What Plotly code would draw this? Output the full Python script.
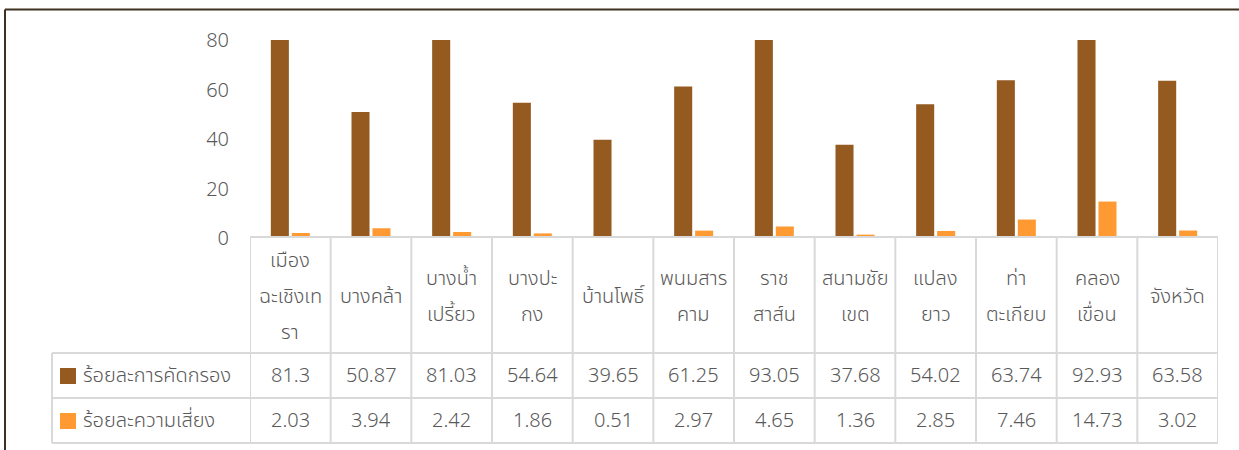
import plotly.graph_objects as go

categories = ["เมือง\nฉะเชิงเท\nรา", "บางคล้า", "บางน้ำ\nเปรี้ยว", "บางปะ\nกง", "บ้านโพธิ์",
              "พนมสาร\nคาม", "ราช\nสาส์น", "สนามชัย\nเขต", "แปลง\nยาว", "ท่า\nตะเกียบ",
              "คลอง\nเขื่อน", "จังหวัด"]
series_names = ["ร้อยละการคัดกรอง", "ร้อยละความเสี่ยง"]
screening = [81.3, 50.87, 81.03, 54.64, 39.65, 61.25, 93.05, 37.68, 54.02, 63.74, 92.93, 63.58]
risk = [2.03, 3.94, 2.42, 1.86, 0.51, 2.97, 4.65, 1.36, 2.85, 7.46, 14.73, 3.02]
series_values = [screening, risk]
y_ticks = [0, 20, 40, 60, 80]

colors = ["#955A20", "#FF9A33"]
FONT = "Noto Sans Thai, Noto Sans, Tahoma, sans-serif"
TXT = "#595959"
GRID = "#D9D9D9"
WEIGHT = 300

W, H = 1239, 450
L, R, T, B = 250, 21, 40, 212
plot_h = H - T - B


def py(pix):
    # pixel row -> paper y
    return (H - B - pix) / plot_h


def px(pix):
    return (pix - L) / (W - L - R)


def f(size=20):
    return dict(family=FONT, size=size, color=TXT, weight=WEIGHT)


n = len(categories)
xs = list(range(n))
fig = go.Figure()
for name, vals, c in zip(series_names, series_values, colors):
    fig.add_trace(go.Bar(x=xs, y=vals, name=name, marker=dict(color=c, line=dict(width=0)),
                         showlegend=False))

shapes = []
ann = []
# table horizontal lines
row_tops = [237, 353, 398, 443]
for i, yp in enumerate(row_tops):
    if i == 0:
        shapes.append(dict(type="line", xref="x", yref="paper", x0=-0.5, x1=n - 0.5,
                           y0=py(yp), y1=py(yp), line=dict(color=GRID, width=2)))
    else:
        shapes.append(dict(type="line", xref="paper", yref="paper", x0=px(52), x1=1,
                           y0=py(yp), y1=py(yp), line=dict(color=GRID, width=2)))
# vertical lines
for k in range(n + 1):
    shapes.append(dict(type="line", xref="x", yref="paper", x0=k - 0.5, x1=k - 0.5,
                       y0=py(237), y1=py(443), line=dict(color=GRID, width=2)))
shapes.append(dict(type="line", xref="paper", yref="paper", x0=px(52), x1=px(52),
                   y0=py(353), y1=py(443), line=dict(color=GRID, width=2)))

# header labels
line_sp = 36
for i, cat in enumerate(categories):
    lines = cat.split("\n")
    m = len(lines)
    for j, ln in enumerate(lines):
        yc = 297 + (j - (m - 1) / 2) * line_sp
        ann.append(dict(x=i, xref="x", y=py(yc), yref="paper", text=ln, showarrow=False,
                        font=f(), yanchor="middle"))

# data rows
row_centers = [376, 421]
for r, vals in enumerate(series_values):
    for i, v in enumerate(vals):
        ann.append(dict(x=i, xref="x", y=py(row_centers[r]), yref="paper", text=str(v),
                        showarrow=False, font=f(), yanchor="middle"))
    # legend key
    shapes.append(dict(type="rect", xref="paper", yref="paper", x0=px(60), x1=px(76),
                       y0=py(row_centers[r] - 8), y1=py(row_centers[r] + 8),
                       fillcolor=colors[r], line=dict(width=0)))
    ann.append(dict(x=px(81), xref="paper", y=py(row_centers[r]), yref="paper",
                    text=series_names[r], showarrow=False, xanchor="left", yanchor="middle",
                    font=f()))

# outer chart border (top and left)
shapes.append(dict(type="line", xref="paper", yref="paper", x0=px(5), x1=px(W + 5),
                   y0=py(9.5), y1=py(9.5), line=dict(color="#3F3020", width=2)))
shapes.append(dict(type="line", xref="paper", yref="paper", x0=px(5), x1=px(5),
                   y0=py(9.5), y1=py(H + 5), line=dict(color="#3F3020", width=2)))

fig.update_layout(
    width=W, height=H,
    margin=dict(l=L, r=R, t=T, b=B),
    paper_bgcolor="white", plot_bgcolor="white",
    barmode="group", bargap=0.48, bargroupgap=0.14,
    shapes=shapes, annotations=ann,
    font=dict(family=FONT, color=TXT),
)
fig.update_xaxes(range=[-0.5, n - 0.5], showticklabels=False, showgrid=False,
                 zeroline=False, showline=False, ticks="")
fig.update_yaxes(range=[0, 80], tickvals=y_ticks, showgrid=False, zeroline=False,
                 showline=False, ticks="", tickfont=f(), ticklabelstandoff=20)

fig.write_html("out.html", config={"displayModeBar": False},
               post_script="document.body.style.margin='0px';document.body.style.overflow='hidden';")
